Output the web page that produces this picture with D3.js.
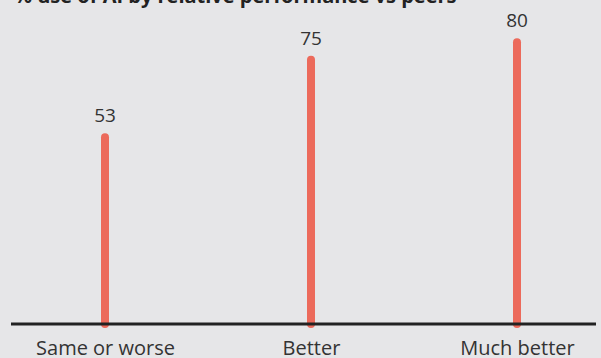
<!DOCTYPE html>
<html>
<head>
<meta charset="utf-8">
<script src="https://cdn.jsdelivr.net/npm/d3@7/dist/d3.min.js"></script>
<style>
  html, body { margin: 0; padding: 0; background: #e6e6e8; }
  svg { display: block; }
</style>
</head>
<body>
<svg id="chart" width="601" height="358"></svg>
<script>
const categories = ["Same or worse", "Better", "Much better"];
const values = [53, 75, 80];
const title = "% use of AI by relative performance vs peers";

const W = 601, H = 358;
const svg = d3.select("#chart");
const font = "'Open Sans', sans-serif";

svg.append("rect").attr("width", W).attr("height", H).attr("fill", "#e6e6e8");

const x = d3.scalePoint().domain(categories).range([105, 517]);
const y = d3.scaleLinear().domain([0, 90]).range([324, 7]);

// title (runs off the top edge)
svg.append("text")
  .attr("x", 14).attr("y", 3)
  .attr("font-family", font).attr("font-weight", "bold")
  .attr("font-size", 20).attr("fill", "#222")
  .text(title);

// lollipop stems
svg.selectAll("line.bar").data(categories).join("line")
  .attr("class", "bar")
  .attr("x1", d => x(d)).attr("x2", d => x(d))
  .attr("y1", (d, i) => y(values[i]))
  .attr("y2", y(0))
  .attr("stroke", "#ec6a5b").attr("stroke-width", 8)
  .attr("stroke-linecap", "round");

// value labels
svg.selectAll("text.val").data(categories).join("text")
  .attr("class", "val")
  .attr("x", d => x(d))
  .attr("y", (d, i) => y(values[i]) - 15)
  .attr("text-anchor", "middle")
  .attr("font-family", font).attr("font-size", 19).attr("fill", "#333")
  .text((d, i) => values[i]);

// baseline axis
const axis = svg.append("g").attr("transform", `translate(0,${y(0)})`)
  .call(d3.axisBottom(x).tickSize(0));
axis.select(".domain").remove();
axis.append("line").attr("x1", 11).attr("x2", 596)
  .attr("stroke", "#222").attr("stroke-width", 3);
axis.selectAll(".tick text")
  .attr("dy", null).attr("y", 31)
  .attr("font-family", font).attr("font-size", 20).attr("fill", "#333");
</script>
</body>
</html>
